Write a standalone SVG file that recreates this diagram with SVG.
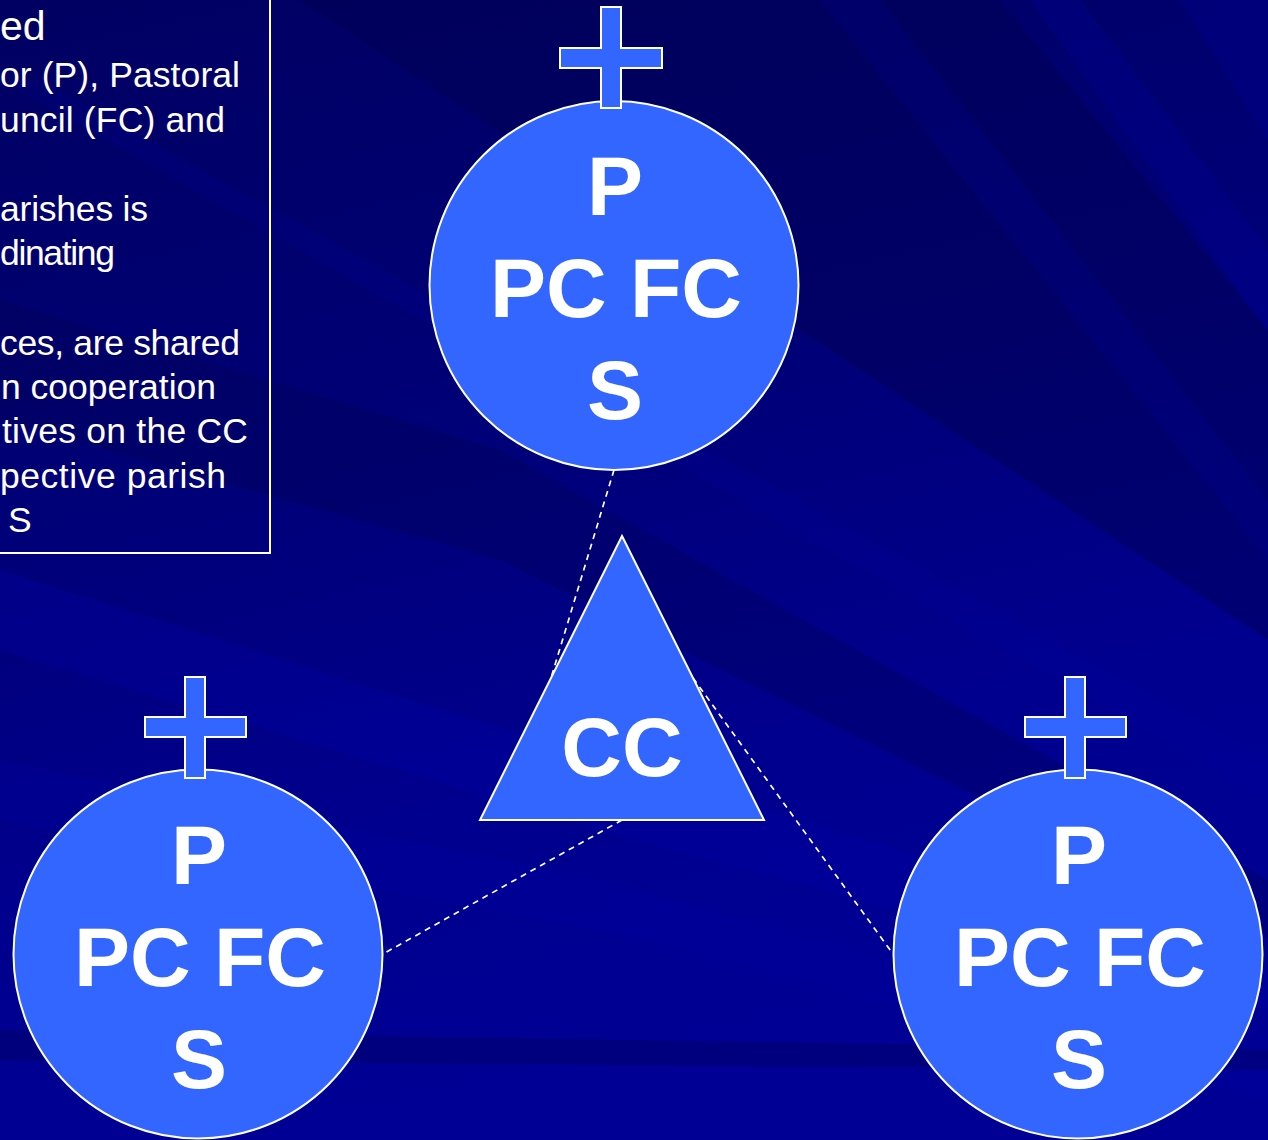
<svg xmlns="http://www.w3.org/2000/svg" width="1268" height="1140" viewBox="0 0 1268 1140">
  <defs>
    <linearGradient id="bg" x1="0" y1="0" x2="0.25" y2="1">
      <stop offset="0" stop-color="#000062"/>
      <stop offset="0.45" stop-color="#000078"/>
      <stop offset="0.75" stop-color="#00008E"/>
      <stop offset="1" stop-color="#000094"/>
    </linearGradient>
    <style>
      .node { fill: #3366FF; stroke: #FFFFFF; stroke-width: 2; }
      .big { font-family: "Liberation Sans", Arial, sans-serif; font-weight: bold; font-size: 84px; fill: #FFFFFF; text-anchor: middle; }
      .body { font-family: "Liberation Sans", Arial, sans-serif; font-size: 35.5px; fill: #FFFFFF; }
      .head { font-family: "Liberation Sans", Arial, sans-serif; font-size: 41px; fill: #FFFFFF; }
      .conn { stroke: #FFFFFF; stroke-width: 1.7; stroke-dasharray: 6 5; fill: none; }
      .lite { fill: #0000A8; }
      .dark { fill: #00004E; }
    </style>
  </defs>

  <!-- background -->
  <g id="background">
    <rect x="0" y="0" width="1268" height="1140" fill="url(#bg)"/>
    <polygon class="dark" opacity="0.4" points="620,0 1000,0 1268,330 1268,640 800,330 300,0"/>
    <polygon class="dark" opacity="0.3" points="0,300 500,450 1268,880 1268,940 500,560 0,420"/>
    <polygon class="lite" opacity="0.2" points="1030,0 1080,0 1268,250 1268,330"/>
    <polygon class="lite" opacity="0.18" points="820,0 880,0 1268,500 1268,560"/>
    <polygon class="lite" opacity="0.2" points="1180,0 1268,0 1268,140"/>
    <polygon class="lite" opacity="0.15" points="0,80 40,80 1268,760 1268,800"/>
    <polygon class="lite" opacity="0.3" points="0,570 600,760 1268,960 1268,1010 600,830 0,650"/>
    <polygon class="lite" opacity="0.2" points="0,760 600,880 1268,1060 1268,1100 600,930 0,820"/>
    <polygon class="dark" opacity="0.3" points="0,1030 1268,1050 1268,1070 0,1060"/>
  </g>

  <!-- text box -->
  <g id="textbox">
    <rect x="-2" y="-2" width="272" height="555" fill="none" stroke="#FFFFFF" stroke-width="2"/>
    <text class="head" x="0" y="40">ed</text>
    <text class="body" x="0" y="87" textLength="240">or (P), Pastoral</text>
    <text class="body" x="0" y="132" textLength="225">uncil (FC) and</text>
    <text class="body" x="0" y="221" textLength="148">arishes is</text>
    <text class="body" x="0" y="265" textLength="115">dinating</text>
    <text class="body" x="0" y="355" textLength="240">ces, are shared</text>
    <text class="body" x="1" y="399" textLength="215">n cooperation</text>
    <text class="body" x="2" y="443" textLength="246">tives on the CC</text>
    <text class="body" x="0" y="488" textLength="226">pective parish</text>
    <text class="body" x="8" y="532">S</text>
  </g>

  <!-- connectors -->
  <g id="connectors">
    <line class="conn" x1="614" y1="470" x2="551" y2="678"/>
    <line class="conn" x1="693" y1="678" x2="893" y2="954"/>
    <line class="conn" x1="622" y1="820" x2="383" y2="954"/>
  </g>

  <!-- coordinating council -->
  <g id="cc">
    <polygon class="node" points="622,536 764,820 480,820"/>
    <text class="big" x="622" y="776">CC</text>
  </g>

  <!-- parish top -->
  <g id="parish-top">
    <circle class="node" cx="614" cy="285.5" r="184.5"/>
    <path class="node" d="M601,7 H621 V48 H662 V68 H621 V108 H601 V68 H560 V48 H601 Z"/>
    <text class="big" x="615" y="215">P</text>
    <text class="big" x="616" y="317">PC FC</text>
    <text class="big" x="615" y="419">S</text>
  </g>

  <!-- parish left -->
  <g id="parish-left">
    <circle class="node" cx="198" cy="954" r="184.5"/>
    <path class="node" d="M185,677 H205 V717 H246 V737 H205 V778 H185 V737 H145 V717 H185 Z"/>
    <text class="big" x="199" y="884">P</text>
    <text class="big" x="200" y="986">PC FC</text>
    <text class="big" x="199" y="1088">S</text>
  </g>

  <!-- parish right -->
  <g id="parish-right">
    <circle class="node" cx="1078" cy="954" r="184.5"/>
    <path class="node" d="M1065,677 H1085 V717 H1126 V737 H1085 V778 H1065 V737 H1025 V717 H1065 Z"/>
    <text class="big" x="1079" y="884">P</text>
    <text class="big" x="1080" y="986">PC FC</text>
    <text class="big" x="1079" y="1088">S</text>
  </g>
</svg>
